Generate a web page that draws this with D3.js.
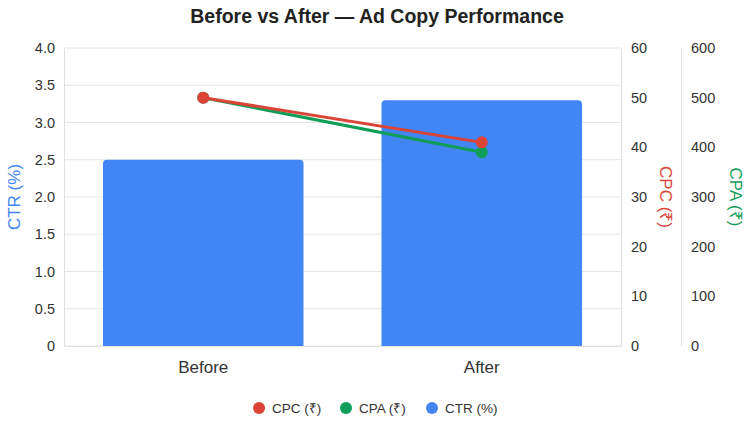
<!DOCTYPE html>
<html>
<head>
<meta charset="utf-8">
<script src="https://cdn.jsdelivr.net/npm/d3@7"></script>
<style>
  body { margin: 0; background: #fff; }
  svg { font-family: "Liberation Sans", Arial, Helvetica, sans-serif; }
</style>
</head>
<body>
<svg id="chart" width="750" height="425"></svg>
<script>
// DATA
const categories = ["Before", "After"];
const ctrValues = [2.5, 3.3];
const cpcValues = [50, 41];
const cpaValues = [500, 390];
const ctrTicks = [0, 0.5, 1.0, 1.5, 2.0, 2.5, 3.0, 3.5, 4.0];
const cpcTicks = [0, 10, 20, 30, 40, 50, 60];
const cpaTicks = [0, 100, 200, 300, 400, 500, 600];

const colors = { cpc: "#db4437", cpa: "#0f9d58", ctr: "#4285f4" };

const svg = d3.select("#chart");
const plot = { left: 64, right: 621, top: 48, bottom: 346 };

// SCALES
const x = d3.scaleBand().domain(categories).range([plot.left, plot.right]);
const yCtr = d3.scaleLinear().domain([0, 4]).range([plot.bottom, plot.top]);
const yCpc = d3.scaleLinear().domain([0, 60]).range([plot.bottom, plot.top]);
const yCpa = d3.scaleLinear().domain([0, 600]).range([plot.bottom, plot.top]);

// title
svg.append("text")
  .attr("x", 377).attr("y", 23)
  .attr("text-anchor", "middle")
  .attr("font-size", 19.5).attr("font-weight", "bold")
  .attr("fill", "#222")
  .text("Before vs After \u2014 Ad Copy Performance");

// GRID
svg.append("g")
  .selectAll("line")
  .data(ctrTicks)
  .join("line")
  .attr("x1", plot.left).attr("x2", plot.right)
  .attr("y1", (d) => yCtr(d)).attr("y2", (d) => yCtr(d))
  .attr("stroke", "#e6e6e6").attr("stroke-width", 1);

// left axis
const leftAxis = svg.append("g")
  .attr("transform", `translate(${plot.left},0)`)
  .call(d3.axisLeft(yCtr).tickValues(ctrTicks)
    .tickFormat((d) => (d === 0 ? "0" : d3.format(".1f")(d)))
    .tickSize(0).tickPadding(9));
leftAxis.select(".domain").attr("stroke", "#e0e0e0");
leftAxis.selectAll("text").attr("font-size", 14.5).attr("fill", "#333");

svg.append("text")
  .attr("transform", `translate(20,${(plot.top + plot.bottom) / 2}) rotate(-90)`)
  .attr("text-anchor", "middle")
  .attr("font-size", 17).attr("fill", colors.ctr)
  .text("CTR (%)");

// CPC axis
const cpcAxis = svg.append("g")
  .attr("transform", `translate(${plot.right},0)`)
  .call(d3.axisRight(yCpc).tickValues(cpcTicks).tickSize(0).tickPadding(10));
cpcAxis.select(".domain").attr("stroke", "#e0e0e0");
cpcAxis.selectAll("text").attr("font-size", 14.5).attr("fill", "#333");

svg.append("text")
  .attr("transform", `translate(660,${(plot.top + plot.bottom) / 2}) rotate(90)`)
  .attr("text-anchor", "middle")
  .attr("font-size", 17).attr("fill", colors.cpc)
  .text("CPC (\u20b9)");

// CPA axis
const cpaAxis = svg.append("g")
  .attr("transform", "translate(681,0)")
  .call(d3.axisRight(yCpa).tickValues(cpaTicks).tickSize(0).tickPadding(10));
cpaAxis.select(".domain").attr("stroke", "#e0e0e0");
cpaAxis.selectAll("text").attr("font-size", 14.5).attr("fill", "#333");

svg.append("text")
  .attr("transform", `translate(730,${(plot.top + plot.bottom) / 2}) rotate(90)`)
  .attr("text-anchor", "middle")
  .attr("font-size", 17).attr("fill", colors.cpa)
  .text("CPA (\u20b9)");

// x axis
const xAxis = svg.append("g")
  .attr("transform", `translate(0,${plot.bottom})`)
  .call(d3.axisBottom(x).tickSize(0).tickPadding(15));
xAxis.select(".domain").attr("stroke", "#e0e0e0");
xAxis.selectAll("text").attr("font-size", 17).attr("fill", "#333");

// BARS
const barW = x.bandwidth() * 0.72;
const r = 4;
svg.append("g")
  .selectAll("path")
  .data(categories.map((c, i) => ({ c, v: ctrValues[i] })))
  .join("path")
  .attr("fill", colors.ctr)
  .attr("d", (d) => {
    const x0 = x(d.c) + (x.bandwidth() - barW) / 2, x1 = x0 + barW;
    const y0 = yCtr(d.v), y1 = plot.bottom;
    return `M${x0},${y1}V${y0 + r}Q${x0},${y0} ${x0 + r},${y0}H${x1 - r}Q${x1},${y0} ${x1},${y0 + r}V${y1}Z`;
  });

// LINES (CPA first so CPC sits on top)
function drawSeries(values, scale, color) {
  const pts = categories.map((c, i) => [x(c) + x.bandwidth() / 2, scale(values[i])]);
  svg.append("path")
    .attr("d", d3.line()(pts))
    .attr("fill", "none").attr("stroke", color).attr("stroke-width", 3);
  svg.append("g").selectAll("circle")
    .data(pts).join("circle")
    .attr("cx", (d) => d[0]).attr("cy", (d) => d[1])
    .attr("r", 6).attr("fill", color);
}
drawSeries(cpaValues, yCpa, colors.cpa);
drawSeries(cpcValues, yCpc, colors.cpc);

// LEGEND
const legendItems = [
  { label: "CPC (\u20b9)", color: colors.cpc, x: 259 },
  { label: "CPA (\u20b9)", color: colors.cpa, x: 346 },
  { label: "CTR (%)", color: colors.ctr, x: 432 },
];
const lg = svg.append("g").selectAll("g").data(legendItems).join("g")
  .attr("transform", (d) => `translate(${d.x},408)`);
lg.append("circle").attr("r", 6).attr("fill", (d) => d.color);
lg.append("text").attr("x", 13).attr("dy", "0.35em")
  .attr("font-size", 13.5).attr("fill", "#333")
  .text((d) => d.label);
</script>
</body>
</html>
